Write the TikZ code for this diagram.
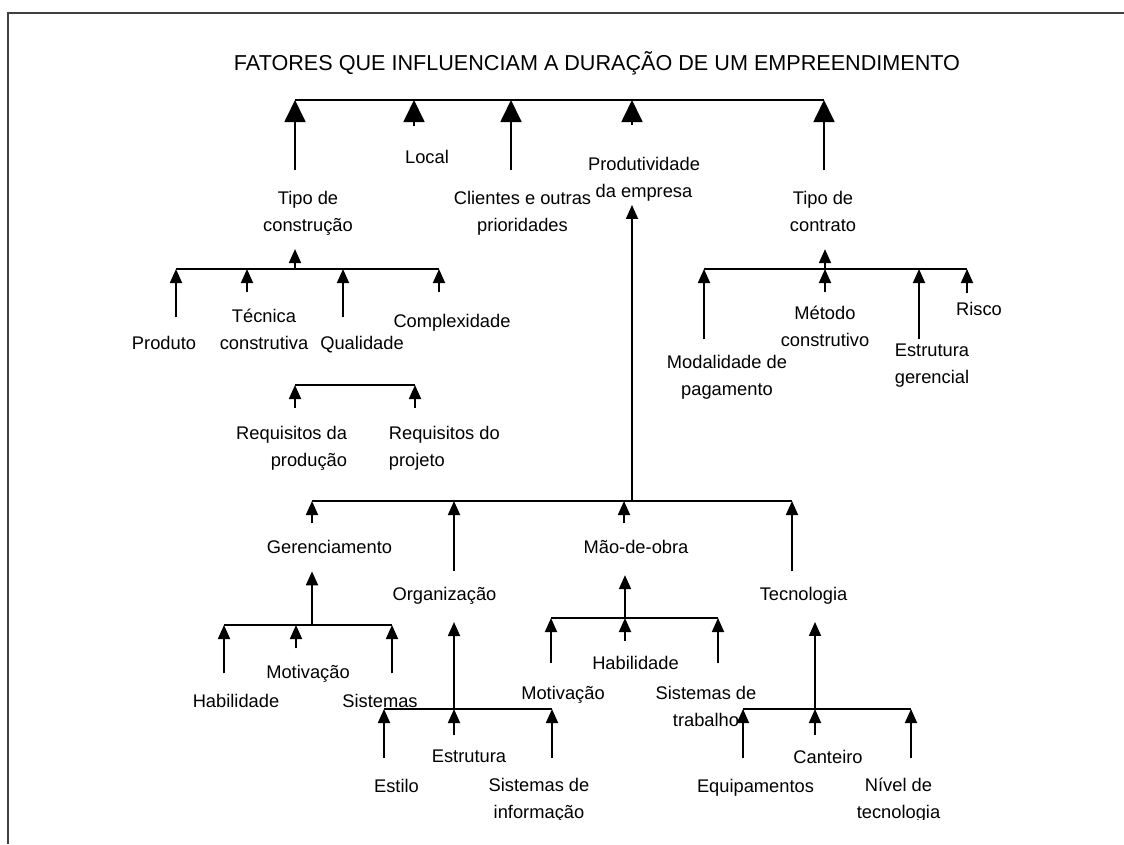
\documentclass[tikz,border=0pt]{standalone}
\usepackage{fontspec}
\setmainfont{Liberation Sans}
\usepackage{tikz}
\usetikzlibrary{arrows.meta, calc}

\begin{document}
\begin{tikzpicture}[x=1pt, y=-1pt, line width=1.8pt,
	every node/.style={inner sep=0pt, align=center, anchor=north, font=\fontsize{18.3}{27}\selectfont},
	big/.style={-{Triangle[length=22pt,width=21pt]}},
	small/.style={-{Triangle[length=14pt,width=12pt]}},
	cut/.style={shorten <=#1pt},
	cutend/.style={shorten >=#1pt}]
	\useasboundingbox (0,0) rectangle (1124,844);
	\begin{scope}
	\clip (0,0) rectangle (1124,819);
	\node[anchor=base, font=\fontsize{21.6}{26}\selectfont] (title) at (597,70) {FATORES QUE INFLUENCIAM A DURAÇÃO DE UM EMPREENDIMENTO};

	\coordinate (t1) at (295,100);
	\coordinate (t2) at (414,100);
	\coordinate (t3) at (511,100);
	\coordinate (t4) at (632,100);
	\coordinate (t5) at (824,100);
	\node (tc) at (308,190.4) {Tipo de\\construção};
	\node (loc) at (427,149.4) {Local};
	\node (cli) at (522.5,190.4) {Clientes e outras\\prioridades};
	\node (prod) at (644,156.4) {Produtividade\\da empresa};
	\node (tcon) at (823,190.4) {Tipo de\\contrato};
	\draw (t1) -- (t5);
	\draw[big, cut=20] (tc.north -| t1) -- (t1);
	\draw[big, cut=23] (loc.north -| t2) -- (t2);
	\draw[big, cut=20] (cli.north -| t3) -- (t3);
	\draw[big, cut=31] (prod.north -| t4) -- (t4);
	\draw[big, cut=20] (tcon.north -| t5) -- (t5);

	\coordinate (a0) at (295,269);
	\coordinate (a1) at (176,269);
	\coordinate (a2) at (247,269);
	\coordinate (a3) at (343,269);
	\coordinate (a4) at (439,269);
	\node (pro) at (164,335.4) {Produto};
	\node (tec) at (264,308.4) {Técnica\\construtiva};
	\node (qua) at (362,335.4) {Qualidade};
	\node (cpx) at (452,313.4) {Complexidade};
	\draw[small, cutend=12.7] (a0) -- (a0 |- tc.south);
	\draw (a1) -- (a4);
	\draw[small, cut=18] (pro.north -| a1) -- (a1);
	\draw[small, cut=16] (tec.north -| a2) -- (a2);
	\draw[small, cut=18] (qua.north -| a3) -- (a3);
	\draw[small, cut=21] (cpx.north -| a4) -- (a4);

	\coordinate (r1) at (295,385);
	\coordinate (r2) at (415,385);
	\node[anchor=north east, align=right] (rda) at (348,425.4) {Requisitos da\\produção};
	\node[anchor=north west, align=left] (rdo) at (388,425.4) {Requisitos do\\projeto};
	\draw (r1) -- (r2);
	\draw[small, cut=17] (rda.north east -| r1) -- (r1);
	\draw[small, cut=17] (rdo.north west -| r2) -- (r2);

	\coordinate (c0) at (825,269);
	\coordinate (c1) at (704,269);
	\coordinate (c2) at (825,269);
	\coordinate (c3) at (919,269);
	\coordinate (c4) at (967,269);
	\node (mod) at (727,354.4) {Modalidade de\\pagamento};
	\node (met) at (825,305.4) {Método\\construtivo};
	\node (est) at (932,343.4) {Estrutura\\gerencial};
	\node (ris) at (979,301.4) {Risco};
	\draw[small, cutend=16.5] (c0) -- (c0 |- tcon.south);
	\draw (c1) -- (c4);
	\draw[small, cut=15] (mod.north -| c1) -- (c1);
	\draw[small, cut=13] (met.north -| c2) -- (c2);
	\draw[small, cut=4] (est.north -| c3) -- (c3);
	\draw[small, cut=8] (ris.north -| c4) -- (c4);

	\coordinate (p0) at (632,501);
	\coordinate (m1) at (312,501);
	\coordinate (m2) at (454,501);
	\coordinate (m3) at (624,501);
	\coordinate (m4) at (792,501);
	\node (ger) at (329.5,539.4) {Gerenciamento};
	\node (org) at (444.5,586.4) {Organização};
	\node (mao) at (636,539.4) {Mão-de-obra};
	\node (tcn) at (803.5,586.4) {Tecnologia};
	\draw[small, cutend=2.7] (p0) -- (p0 |- prod.south);
	\draw (m1) -- (m4);
	\draw[small, cut=16] (ger.north -| m1) -- (m1);
	\draw[small, cut=15] (org.north -| m2) -- (m2);
	\draw[small, cut=16] (mao.north -| m3) -- (m3);
	\draw[small, cut=15] (tcn.north -| m4) -- (m4);

	\coordinate (g0) at (312,625);
	\coordinate (g1) at (224,625);
	\coordinate (g2) at (296,625);
	\coordinate (g3) at (392,625);
	\node (hab1) at (236,693.4) {Habilidade};
	\node (mot1) at (308,664.4) {Motivação};
	\node (sis1) at (380,693.4) {Sistemas};
	\draw[small, cutend=16.7] (g0) -- (g0 |- ger.south);
	\draw (g1) -- (g3);
	\draw[small, cut=20] (hab1.north -| g1) -- (g1);
	\draw[small, cut=16] (mot1.north -| g2) -- (g2);
	\draw[small, cut=20] (sis1.north -| g3) -- (g3);

	\coordinate (o0) at (454,709);
	\coordinate (o1) at (384,709);
	\coordinate (o2) at (454,709);
	\coordinate (o3) at (552,709);
	\node (esti) at (396.5,778.4) {Estilo};
	\node (estr) at (469,749.4) {Estrutura};
	\node (sinf) at (539,777.4) {Sistemas de\\informação};
	\draw[small, cutend=16.7] (o0) -- (o0 |- org.south);
	\draw (o1) -- (o3);
	\draw[small, cut=20] (esti.north -| o1) -- (o1);
	\draw[small, cut=14] (estr.north -| o2) -- (o2);
	\draw[small, cut=19] (sinf.north -| o3) -- (o3);

	\coordinate (h0) at (625,618);
	\coordinate (h1) at (551,618);
	\coordinate (h2) at (625,618);
	\coordinate (h3) at (718,618);
	\node (mot2) at (563,685.4) {Motivação};
	\node (hab2) at (635.5,655.4) {Habilidade};
	\node (strab) at (706,685.4) {Sistemas de\\trabalho};
	\draw[small, cutend=20.5] (h0) -- (h0 |- mao.south);
	\draw (h1) -- (h3);
	\draw[small, cut=22] (mot2.north -| h1) -- (h1);
	\draw[small, cut=14] (hab2.north -| h2) -- (h2);
	\draw[small, cut=22] (strab.north -| h3) -- (h3);

	\coordinate (e0) at (815,709);
	\coordinate (e1) at (743,709);
	\coordinate (e2) at (815,709);
	\coordinate (e3) at (911,709);
	\node (equ) at (755.5,778.4) {Equipamentos};
	\node (can) at (828,749.4) {Canteiro};
	\node (niv) at (898.5,777.4) {Nível de\\tecnologia};
	\draw[small, cutend=16.7] (e0) -- (e0 |- tcn.south);
	\draw (e1) -- (e3);
	\draw[small, cut=20] (equ.north -| e1) -- (e1);
	\draw[small, cut=14] (can.north -| e2) -- (e2);
	\draw[small, cut=19] (niv.north -| e3) -- (e3);
	\end{scope}

	\draw[line width=2pt, black!75] (8,844) -- (8,12.5) -- (1124,12.5);
\end{tikzpicture}
\end{document}
